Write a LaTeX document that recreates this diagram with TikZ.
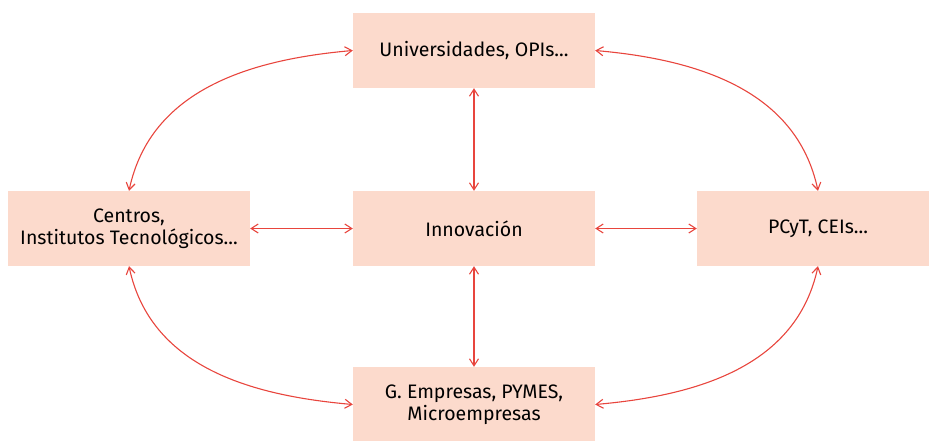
\documentclass[tikz,border=0pt]{standalone}
\usepackage{fontspec}
\setmainfont{Fira Sans}
\usetikzlibrary{arrows.meta}
\usetikzlibrary{positioning}
\definecolor{mred}{rgb}{0.91, 0.27, 0.24}
\definecolor{mpeach}{rgb}{0.99, 0.855, 0.80}
\tikzset{box/.style = {fill=mpeach, minimum width=242pt, minimum height=75pt,
                       align=center, font=\fontsize{19.5}{22.5}\selectfont}}
\tikzset{link/.style = {draw=mred, line width=1.1pt,
                        {Straight Barb[length=7pt,width=9pt]}-{Straight Barb[length=7pt,width=9pt]}}}

\begin{document}
\begin{tikzpicture}[x=1pt, y=-1pt]
      \useasboundingbox (0, 0) rectangle (929, 440);
      \node [box] (uni) at (474, 50.5) {Universidades, OPIs...};
      \node [box] (inno) at (474, 228.5) {Innovación};
      \node [box] (cent) at (129, 228.5) {Centros,\\Institutos Tecnológicos...};
      \node [box] (pcyt) at (818, 228.5) {PCyT, CEIs...};
      \node [box] (emp) at (474, 404.5) {G. Empresas, PYMES,\\Microempresas};
      \draw [link] (uni) -- (inno);
      \draw [link] (inno) -- (emp);
      \draw [link] (cent) -- (inno);
      \draw [link] (inno) -- (pcyt);
      \draw [link] (uni.west) to [out=185, in=78] (cent.north);
      \draw [link] (uni.east) to [out=-5, in=102] (pcyt.north);
      \draw [link] (cent.south) to [out=-78, in=175] (emp.west);
      \draw [link] (pcyt.south) to [out=-102, in=5] (emp.east);
    \end{tikzpicture}
\end{document}
